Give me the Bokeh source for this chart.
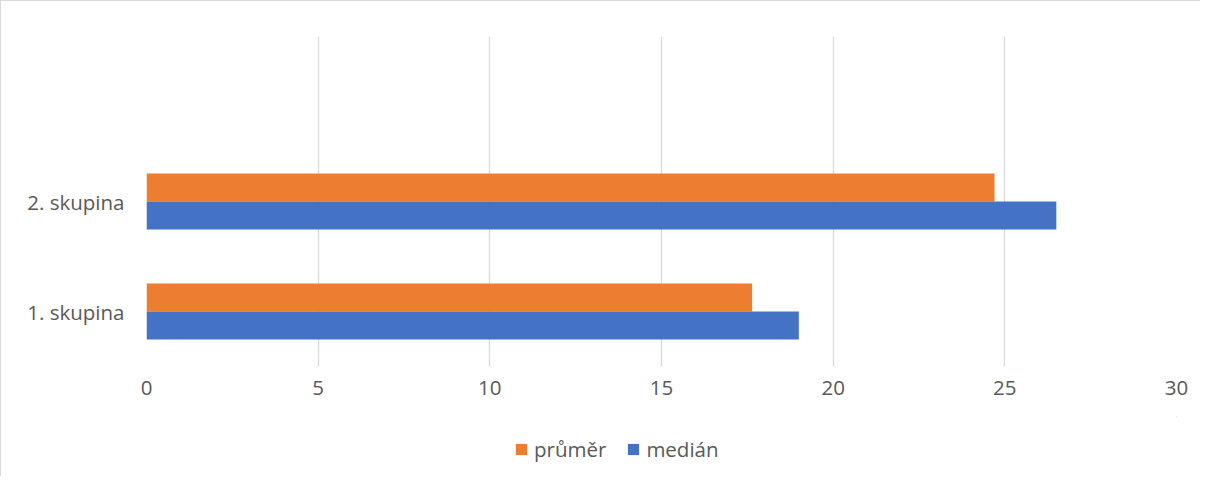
from bokeh.plotting import figure
from bokeh.layouts import column
from bokeh.models import ColumnDataSource, Legend, LegendItem, FixedTicker, FactorRange
from bokeh.transform import dodge
from bokeh.embed import file_html
from bokeh.resources import INLINE

categories = ["1. skupina", "2. skupina"]
prumer = [17.64, 24.7]
median = [19.0, 26.5]
series_names = ["průměr", "medián"]
x_ticks = [0, 5, 10, 15, 20, 25, 30]

FONT = "Open Sans"
FS = "20.5px"
TXT = "#595959"
GRID = "#D9D9D9"
ORANGE = "#ED7D31"
BLUE = "#4472C4"

factors = categories + [" "]
src = ColumnDataSource(dict(cat=categories, prumer=prumer, median=median))

p = figure(width=1199, height=415, output_backend="svg", toolbar_location=None,
           y_range=FactorRange(factors=factors, range_padding=0), x_range=(0, 30))
p.min_border_left = 145
p.min_border_right = 24
p.min_border_top = 35
p.min_border_bottom = 50
p.outline_line_color = None
p.background_fill_color = "white"
p.border_fill_color = "white"

bh = 0.2545
r1 = p.hbar(y=dodge("cat", 0.1273, range=p.y_range), right="prumer", left=0, height=bh,
            source=src, fill_color=ORANGE, line_color=None)
r2 = p.hbar(y=dodge("cat", -0.1273, range=p.y_range), right="median", left=0, height=bh,
            source=src, fill_color=BLUE, line_color=None)

p.xaxis.ticker = FixedTicker(ticks=x_ticks)
p.xgrid.ticker = FixedTicker(ticks=x_ticks)
p.xgrid.grid_line_color = GRID
p.xgrid.grid_line_width = 1.3
p.ygrid.grid_line_color = None

for ax in (p.xaxis, p.yaxis):
    ax.axis_line_color = None
    ax.major_tick_line_color = None
    ax.minor_tick_line_color = None
    ax.major_tick_out = 0
    ax.major_tick_in = 0
    ax.major_label_text_font = FONT
    ax.major_label_text_font_size = FS
    ax.major_label_text_color = TXT
p.xaxis.major_label_standoff = 14
p.yaxis.major_label_standoff = 22

# legend strip (its proxy bars lie outside its visible range)
lf = figure(width=1199, height=60, output_backend="svg", toolbar_location=None,
            x_range=(0, 1), y_range=(0, 1), min_border=0)
lf.outline_line_color = None
lf.axis.visible = False
lf.grid.visible = False
lf.background_fill_color = "white"
lf.border_fill_color = "white"
g1 = lf.hbar(y="prumer", right="prumer", left="prumer", height=0.1, source=src,
             fill_color=ORANGE, line_color=None)
g2 = lf.hbar(y="median", right="median", left="median", height=0.1, source=src,
             fill_color=BLUE, line_color=None)

legend = Legend(items=[LegendItem(label=series_names[0], renderers=[g1]),
                       LegendItem(label=series_names[1], renderers=[g2])],
                orientation="horizontal", location=(368, 13),
                border_line_color=None, background_fill_alpha=0,
                label_text_font=FONT, label_text_font_size=FS, label_text_color=TXT,
                glyph_width=14, glyph_height=14, label_standoff=6, spacing=20,
                padding=0, margin=0)
lf.add_layout(legend, "center")

layout = column(p, lf, spacing=0,
                styles={"border-top": "1px solid #D9D9D9", "border-left": "1px solid #D9D9D9"})

open("out.html", "w").write(file_html(layout, INLINE))
